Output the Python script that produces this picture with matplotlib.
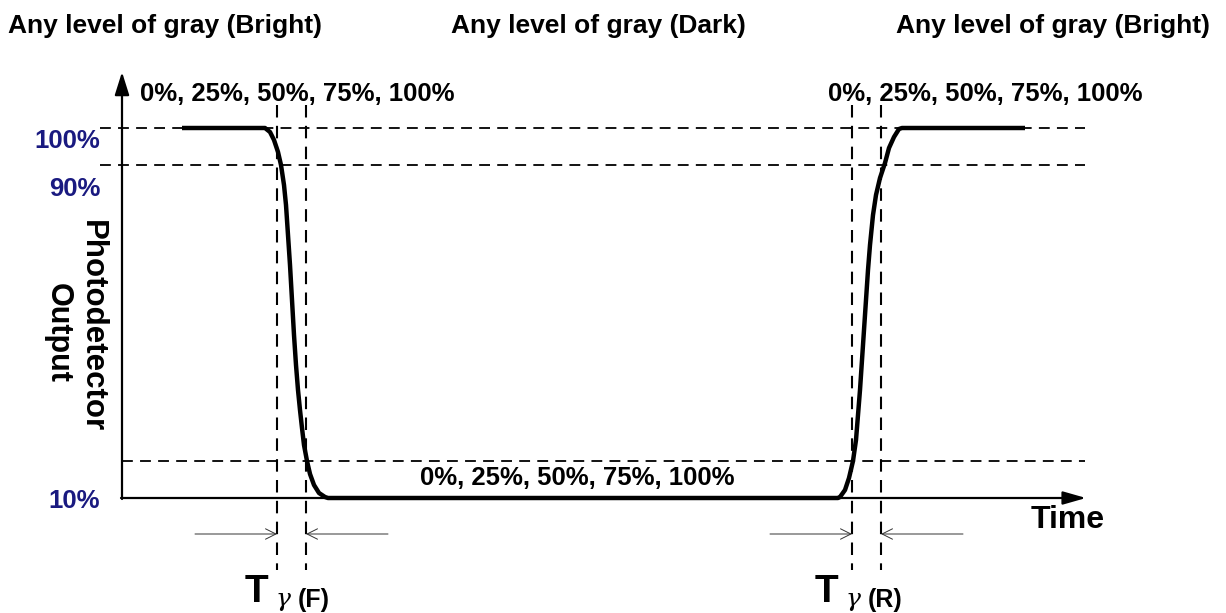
import matplotlib.pyplot as plt

plt.rcParams['font.family'] = ['Liberation Sans', 'DejaVu Sans']
plt.rcParams['font.weight'] = 'bold'

# schematic drawn in a pixel-like frame: x grows to the right, y grows downward
W, H = 1226, 613

# response curve (fall from bright to dark, then rise back)
curve_x = [182, 265, 270, 274, 278, 281, 284, 286, 288, 290, 292, 294, 296, 298,
           300, 302, 304, 307, 310, 314, 319, 325, 328,
           838, 840, 845, 849, 853, 856, 858, 860, 862, 864, 866, 868, 870, 873,
           876, 880, 885, 889, 894, 899, 902, 1025]
curve_y = [128, 128, 132, 140, 152, 165, 185, 205, 235, 265, 300, 335, 365, 390,
           410, 428, 445, 461, 474, 485, 493, 497, 498,
           498, 497, 490, 478, 461, 440, 415, 390, 360, 330, 300, 270, 245, 215,
           195, 178, 163, 148, 137, 129, 128, 128]

# reference levels
level_y = [128, 165, 461]
level_x0 = [100, 100, 122]
level_names = ['100%', '90%', '10%']
level_label_y = [148, 196, 508]

# transition markers (fall start/end, rise start/end)
mark_x = [277, 306, 852, 881]

top_labels = ['Any level of gray (Bright)', 'Any level of gray (Dark)',
              'Any level of gray (Bright)']
pct_text = '0%, 25%, 50%, 75%, 100%'

fig = plt.figure(figsize=(W / 100, H / 100), dpi=100)
ax = fig.add_axes([0, 0, 1, 1])
ax.set_xlim(0, W)
ax.set_ylim(H, 0)
ax.axis('off')

# axes with filled arrow heads
ax.annotate('', xy=(122, 72), xytext=(122, 499),
            arrowprops=dict(arrowstyle='-|>,head_length=0.7,head_width=0.22',
                            mutation_scale=20, lw=1.6, color='black',
                            shrinkA=0, shrinkB=0))
ax.annotate('', xy=(1086, 498), xytext=(121, 498),
            arrowprops=dict(arrowstyle='-|>,head_length=0.7,head_width=0.2',
                            mutation_scale=20, lw=1.6, color='black',
                            shrinkA=0, shrinkB=0))

# dashed reference lines
for y, x0 in zip(level_y, level_x0):
    ax.plot([x0, 1085], [y, y], color='black', lw=1.3, ls=(0, (6, 4)))
for x in mark_x:
    ax.plot([x, x], [105, 570], color='black', lw=1.5, ls=(0, (6, 4)))

ax.plot(curve_x, curve_y, color='black', lw=3.2, solid_capstyle='butt',
        solid_joinstyle='round')

# width arrows under the transitions
for x_in, x_out in [(277, 306), (852, 881)]:
    ax.annotate('', xy=(x_in, 534), xytext=(x_in - 82, 534),
                arrowprops=dict(arrowstyle='->,head_length=0.5,head_width=0.25',
                                mutation_scale=15, lw=0.7, color='#333333',
                                shrinkA=0, shrinkB=0))
    ax.annotate('', xy=(x_out, 534), xytext=(x_out + 82, 534),
                arrowprops=dict(arrowstyle='->,head_length=0.5,head_width=0.25',
                                mutation_scale=15, lw=0.7, color='#333333',
                                shrinkA=0, shrinkB=0))

# texts
ax.text(8, 33, top_labels[0], fontsize=19, ha='left', va='baseline')
ax.text(598, 33, top_labels[1], fontsize=19, ha='center', va='baseline')
ax.text(1210, 33, top_labels[2], fontsize=19, ha='right', va='baseline')

ax.text(140, 101, pct_text, fontsize=18.5, ha='left', va='baseline')
ax.text(828, 101, pct_text, fontsize=18.5, ha='left', va='baseline')
ax.text(420, 485, pct_text, fontsize=18.5, ha='left', va='baseline')

for name, y in zip(level_names, level_label_y):
    ax.text(100, y, name, fontsize=18.5, ha='right', va='baseline', color='#1a1a80')

ax.text(92, 326, 'Photodetector', fontsize=22.5, rotation=270,
        ha='center', va='center')
ax.text(58, 333, 'Output', fontsize=22, rotation=270, ha='center', va='center')

ax.text(1105, 528, 'Time', fontsize=23, ha='right', va='baseline')

for tx, sub in [(245, '(F)'), (815, '(R)')]:
    ax.text(tx, 602, 'T', fontsize=28, ha='left', va='baseline')
    ax.text(tx + 31, 606, 'γ', fontsize=18, ha='left', va='baseline',
            family='DejaVu Serif', style='italic', weight='normal')
    ax.text(tx + 53, 607, sub, fontsize=18, ha='left', va='baseline')

fig.savefig('out.png', dpi=100)
